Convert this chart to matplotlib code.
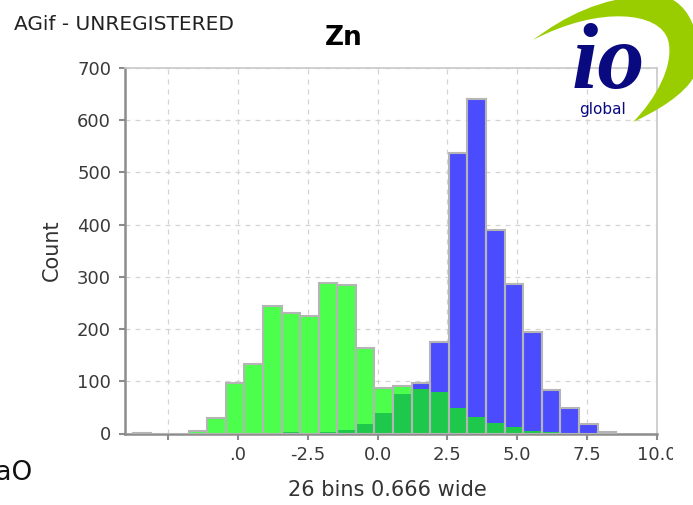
import numpy as np
import matplotlib
matplotlib.use('Agg')
import matplotlib.pyplot as plt
from matplotlib.path import Path
from matplotlib.patches import PathPatch
from matplotlib.transforms import Affine2D, Bbox, TransformedBbox

# --- Histogram data: 26 bins, 0.666 wide ---
bin_start = -8.77
bin_width = 0.666
green_counts = [1, 0, 0, 4, 30, 96, 134, 245, 231, 225, 288, 284, 164,
                87, 91, 85, 79, 48, 32, 21, 12, 5, 2, 1, 0, 0]
blue_counts = [0, 0, 0, 0, 0, 0, 0, 0, 2, 1, 3, 7, 18,
               40, 75, 96, 175, 538, 641, 390, 286, 194, 83, 48, 18, 2]

x_ticks = [-7.5, -5.0, -2.5, 0.0, 2.5, 5.0, 7.5, 10.0]
x_tick_labels = ['', '.0', '-2.5', '0.0', '2.5', '5.0', '7.5', '10.0']
y_ticks = [0, 100, 200, 300, 400, 500, 600, 700]

GREEN = '#4cff4c'
BLUE = '#4c4cff'
OVERLAP = '#1ec84b'
W, H = 693, 505

fig = plt.figure(figsize=(W / 100, H / 100), dpi=100)
ax = fig.add_axes([125 / W, 1 - 433.5 / H, 531.7 / W, 365.5 / H])

green = np.array(green_counts)
blue = np.array(blue_counts)
left_edges = bin_start + bin_width * np.arange(len(green))
top = np.maximum(green, blue)
top_colors = np.where(green >= blue, GREEN, BLUE)
overlap = np.minimum(green, blue)

ax.bar(left_edges, top, width=bin_width, align='edge', color=top_colors,
       edgecolor='none', zorder=2)
ax.bar(left_edges, overlap, width=bin_width, align='edge', color=OVERLAP,
       edgecolor='none', zorder=3)
ax.bar(left_edges, top, width=bin_width, align='edge', fill=False,
       edgecolor='#b5b5b5', linewidth=1.5, zorder=4)

ax.set_xlim(-9.05, 10.0)
ax.set_ylim(0, 700)
ax.set_xticks(x_ticks)
ax.set_xticklabels(x_tick_labels)
ax.set_yticks(y_ticks)

ax.set_axisbelow(True)
ax.grid(True, linestyle=(0, (4, 4)), color='#d4d4d4', linewidth=0.9)
for side in ['left', 'bottom']:
    ax.spines[side].set_color('#8c8c8c')
    ax.spines[side].set_linewidth(1.8)
for side in ['top', 'right']:
    ax.spines[side].set_color('#c8c8c8')
    ax.spines[side].set_linewidth(1.2)
ax.tick_params(direction='out', length=4, width=1.5, color='#8c8c8c',
               labelsize=13, labelcolor='#3a3a3a')
ax.tick_params(axis='x', pad=5)
ax.tick_params(axis='y', pad=6)

# the 10.0 label is cut off at the right in the original
lbl = ax.xaxis.get_major_ticks()[-1].label1
lbl.set_clip_box(TransformedBbox(Bbox([[0, 0], [673 / W, 1]]), fig.transFigure))
lbl.set_clip_on(True)

# --- Texts ---
fig.text(344 / W, 1 - 38 / H, 'Zn', fontsize=19, fontweight='bold',
         ha='center', va='center')
fig.text(52 / W, 1 - 250 / H, 'Count', fontsize=15, rotation=90,
         ha='center', va='center', color='#333333')
fig.text(387 / W, 1 - 490 / H, '26 bins 0.666 wide', fontsize=15,
         ha='center', va='center', color='#333333')
fig.text(14 / W, 1 - 24 / H, 'AGif - UNREGISTERED', fontsize=14.5,
         ha='left', va='center', color='#222222')
fig.text(33 / W, 1 - 473 / H, 'CaO', fontsize=19, ha='right', va='center',
         color='#111111')

# --- io global logo ---
px = Affine2D().scale(1 / W, -1 / H).translate(0, 1) + fig.transFigure
verts = [(533, 40),
         (565, 16), (600, -2), (650, -5),
         (690, -8), (705, 40), (695, 75),
         (685, 95), (655, 112), (633, 122),
         (655, 100), (675, 65), (668, 40),
         (660, 12), (600, 5), (533, 40),
         (533, 40)]
codes = [Path.MOVETO] + [Path.CURVE4] * 15 + [Path.CLOSEPOLY]
swoosh = PathPatch(Path(verts, codes), facecolor='#9acd00', edgecolor='none',
                   transform=px, zorder=5)
fig.add_artist(swoosh)
fig.text(608 / W, 1 - 88 / H, 'io', family='Liberation Serif', fontsize=68,
         fontweight='bold', style='italic', color='#0a0a80',
         ha='center', va='baseline', zorder=6)
fig.text(603 / W, 1 - 114 / H, 'global', fontsize=11, color='#0a0a80',
         ha='center', va='baseline', zorder=6)

fig.savefig('out.png', dpi=100)
